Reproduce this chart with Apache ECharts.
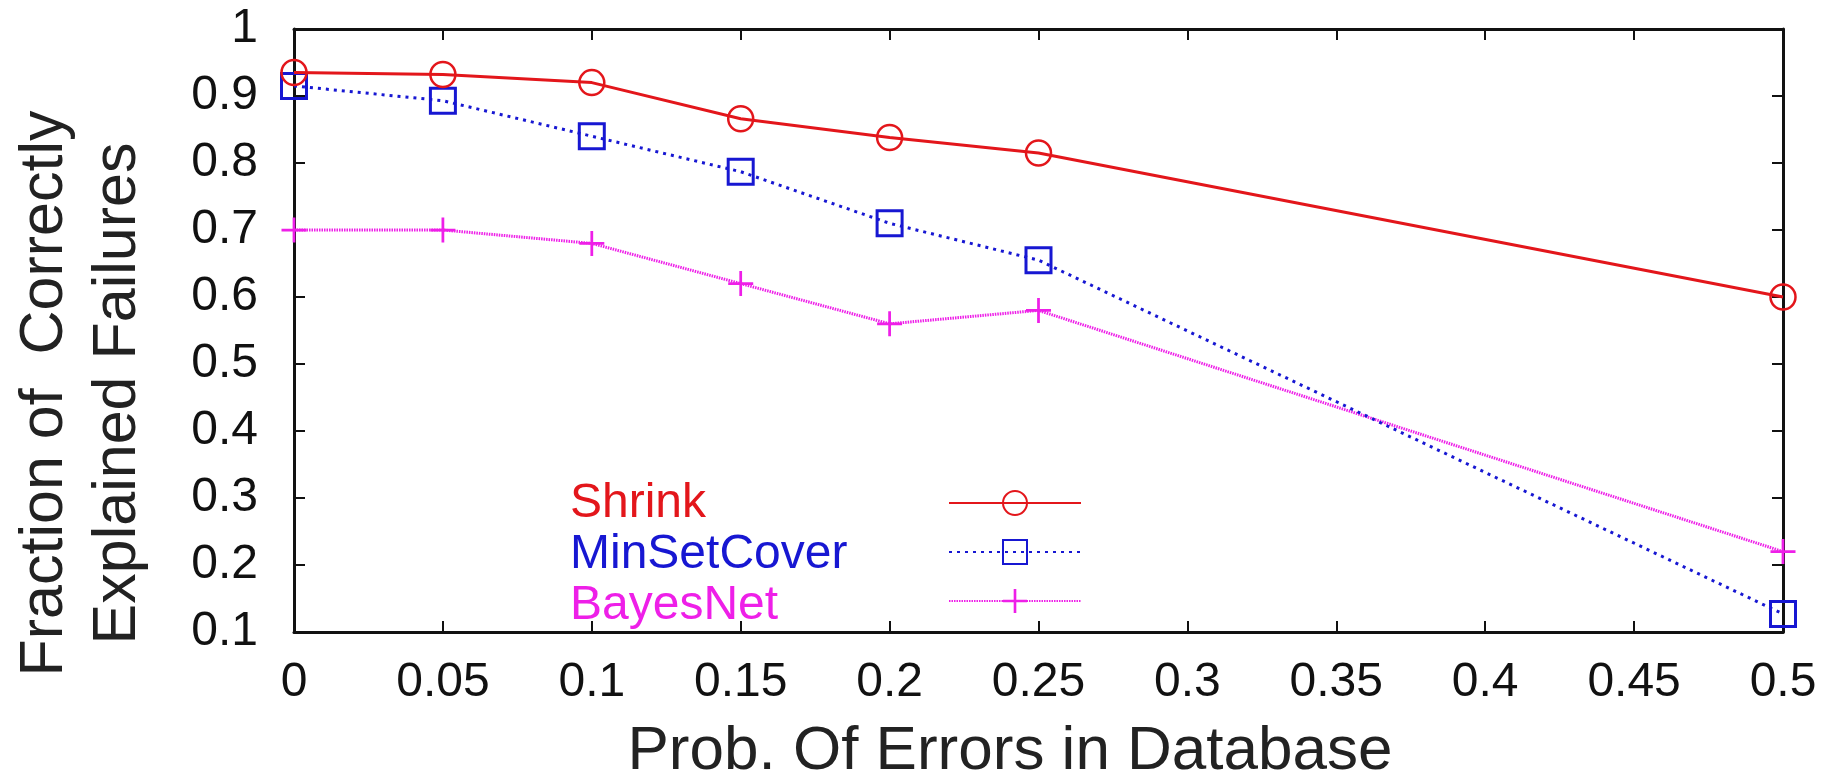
<!DOCTYPE html>
<html>
<head>
<meta charset="utf-8">
<title>Fraction of Correctly Explained Failures</title>
<script src="https://cdn.jsdelivr.net/npm/echarts@6.0.0/dist/echarts.min.js"></script>
<style>
  html, body { margin: 0; padding: 0; background: #fff; }
  #chart { width: 1841px; height: 780px; }
</style>
</head>
<body>
<div id="chart"></div>
<script>
// x positions (prob. of errors)
const errorProbs = [0, 0.05, 0.1, 0.15, 0.2, 0.25, 0.5];

const shrinkValues      = [0.935, 0.932, 0.92, 0.866, 0.838, 0.815, 0.60];
const minSetCoverValues = [0.915, 0.893, 0.84, 0.787, 0.71, 0.655, 0.127];
const bayesNetValues    = [0.70, 0.70, 0.68, 0.62, 0.56, 0.58, 0.22];

const seriesNames = ['Shrink', 'MinSetCover', 'BayesNet'];
const seriesColors = ['#e3161b', '#1717d2', '#ee1fe8'];

const xTitle = 'Prob. Of Errors in Database';
const yTitle = 'Fraction of  Correctly\nExplained Failures';

const FONT = '"Liberation Sans", Arial, sans-serif';
const plusSymbol = 'path://M4.45,0H5.55V10H4.45ZM0,4.45H10V5.55H0Z';

function pairs(xs, ys) {
  return xs.map((x, i) => [x, ys[i]]);
}

function frameAxis(extra) {
  return Object.assign({
    type: 'value',
    axisLine: { show: true, onZero: false, lineStyle: { color: '#111', width: 3 } },
    axisTick: { show: true, inside: true, length: 11, lineStyle: { color: '#111', width: 2 } },
    splitLine: { show: false },
    axisLabel: { show: false }
  }, extra);
}

const xRange = { min: 0, max: 0.5, interval: 0.05 };
const yRange = { min: 0.1, max: 1, interval: 0.1 };

const chart = echarts.init(document.getElementById('chart'), null, { renderer: 'canvas' });

const options = {
  backgroundColor: '#fff',
  animation: false,
  grid: { left: 294, right: 58, top: 29, bottom: 148, outerBoundsMode: 'none' },
  xAxis: [
    frameAxis(Object.assign({
      position: 'bottom',
      name: xTitle,
      nameLocation: 'middle',
      nameGap: 89,
      nameTextStyle: { fontFamily: FONT, fontSize: 62, color: '#222', padding: [0, 57, 0, 0] },
      axisLabel: {
        show: true, margin: 27, fontFamily: FONT, fontSize: 48, color: '#111',
        formatter: v => String(+v.toFixed(2))
      }
    }, xRange)),
    frameAxis(Object.assign({ position: 'top' }, xRange))
  ],
  yAxis: [
    frameAxis(Object.assign({
      position: 'left',
      name: yTitle,
      nameLocation: 'middle',
      nameGap: 139,
      nameTextStyle: { fontFamily: FONT, fontSize: 61, lineHeight: 73, color: '#222', padding: [0, 126, 0, 0] },
      axisLabel: {
        show: true, margin: 36, fontFamily: FONT, fontSize: 48, color: '#111',
        formatter: v => String(+v.toFixed(1))
      }
    }, yRange)),
    frameAxis(Object.assign({ position: 'right' }, yRange))
  ],
  legend: [
    {
      // text column
      orient: 'vertical',
      left: 560,
      top: 473,
      icon: 'none',
      itemWidth: 0,
      itemHeight: 10,
      itemGap: 0,
      selectedMode: false,
      textStyle: { fontFamily: FONT, fontSize: 48, lineHeight: 51 },
      data: seriesNames.map((n, i) => ({ name: n, textStyle: { color: seriesColors[i] } }))
    },
    {
      // sample column
      orient: 'vertical',
      left: 943,
      top: 483,
      itemWidth: 132,
      itemHeight: 30,
      itemGap: 21,
      selectedMode: false,
      formatter: () => '',
      textStyle: { fontSize: 1 },
      data: seriesNames
    }
  ],
  series: [
    {
      name: seriesNames[0],
      type: 'line',
      clip: false,
      data: pairs(errorProbs, shrinkValues),
      symbol: 'circle',
      symbolSize: 25,
      itemStyle: { color: 'rgba(0,0,0,0)', borderColor: seriesColors[0], borderWidth: 2.5 },
      lineStyle: { color: seriesColors[0], width: 3, type: 'solid' },
      z: 4
    },
    {
      name: seriesNames[1],
      type: 'line',
      clip: false,
      data: pairs(errorProbs, minSetCoverValues),
      symbol: 'rect',
      symbolSize: 25,
      itemStyle: { color: 'rgba(0,0,0,0)', borderColor: seriesColors[1], borderWidth: 3 },
      lineStyle: { color: seriesColors[1], width: 3, type: [3, 5] },
      z: 3
    },
    {
      name: seriesNames[2],
      type: 'line',
      clip: false,
      data: pairs(errorProbs, bayesNetValues),
      symbol: plusSymbol,
      symbolSize: 25,
      itemStyle: { color: seriesColors[2] },
      lineStyle: { color: seriesColors[2], width: 3, type: [1.5, 1] },
      z: 2
    }
  ]
};

chart.setOption(options);
</script>
</body>
</html>
